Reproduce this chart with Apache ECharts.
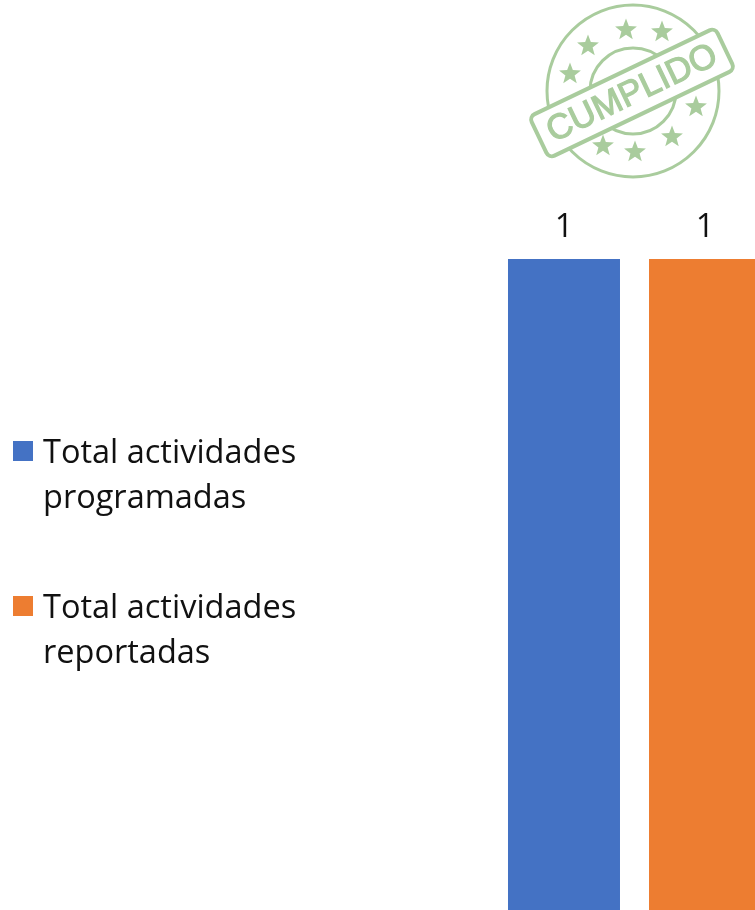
<!DOCTYPE html>
<html><head><meta charset="utf-8">
<style>html,body{margin:0;padding:0;background:#fff;overflow:hidden}#c{width:755px;height:910px}</style>
<script src="https://cdn.jsdelivr.net/npm/echarts@6/dist/echarts.min.js"></script>
</head><body><div id="c"></div>
<script>
const categories = ['Actividades'];
const seriesNames = ['Total actividades\nprogramadas', 'Total actividades\nreportadas'];
const programadas = [1];
const reportadas = [1];
const stampText = 'CUMPLIDO';

const GREEN = '#a9cc9d';
function star(cx, cy, r) {
  const pts = [];
  for (let i = 0; i < 10; i++) {
    const a = -Math.PI / 2 + i * Math.PI / 5, q = i % 2 ? r * 0.42 : r;
    pts.push([cx + q * Math.cos(a), cy + q * Math.sin(a)]);
  }
  return { type: 'polygon', shape: { points: pts }, style: { fill: GREEN } };
}
const starSpots = [[626,30],[662,32],[588,46],[570,74],[696,107],[672,137],[635,152],[603,146]];
const cx = 633, cy = 91, bandAngle = 25.6 * Math.PI / 180;
const font = '"Open Sans", sans-serif';
const chart = echarts.init(document.getElementById('c'), null, { renderer: 'canvas' });
const legendIcon = 'path://M0 0H20V20H0ZM0 70L0 70Z';
chart.setOption({
  animation: false,
  backgroundColor: '#fff',
  grid: { left: 478, width: 313, top: 259, height: 651, outerBoundsMode: 'none' },
  legend: {
    orient: 'vertical', left: 13, top: 431, padding: 0, itemGap: 65,
    itemWidth: 20, itemHeight: 70, itemStyle: { borderWidth: 0 },
    textStyle: { fontFamily: font, fontSize: 32.5, lineHeight: 45, color: '#111', padding: [0, 0, 0, 5] },
    data: [
      { name: seriesNames[0], icon: legendIcon },
      { name: seriesNames[1], icon: legendIcon }
    ]
  },
  xAxis: { type: 'category', data: categories, show: false },
  yAxis: { type: 'value', min: 0, max: 1, show: false },
  series: [
    { name: seriesNames[0], type: 'bar', data: programadas, barWidth: 112, barGap: '25.9%',
      itemStyle: { color: '#4472c4' },
      label: { show: true, position: 'top', distance: 15, fontFamily: font, fontSize: 32.5, color: '#111' } },
    { name: seriesNames[1], type: 'bar', data: reportadas, barWidth: 112,
      itemStyle: { color: '#ed7d31' },
      label: { show: true, position: 'top', distance: 15, fontFamily: font, fontSize: 32.5, color: '#111' } }
  ],
  graphic: [
    { type: 'circle', shape: { cx, cy, r: 86 }, style: { fill: 'none', stroke: GREEN, lineWidth: 3 } },
    { type: 'circle', shape: { cx, cy, r: 43 }, style: { fill: 'none', stroke: GREEN, lineWidth: 3 } },
    ...starSpots.map(s => star(s[0], s[1], 11.5)),
    { type: 'group', x: 632, y: 93, rotation: bandAngle, children: [
      { type: 'rect', shape: { x: -103, y: -23, width: 206, height: 46, r: 6 },
        style: { fill: '#fff', stroke: GREEN, lineWidth: 4 } },
      { type: 'text', x: 0, y: 1, style: { text: stampText, fill: GREEN, stroke: GREEN, lineWidth: 1.2, font: '35px "Liberation Sans", sans-serif', align: 'center', verticalAlign: 'middle' } }
    ] }
  ]
});
</script></body></html>
